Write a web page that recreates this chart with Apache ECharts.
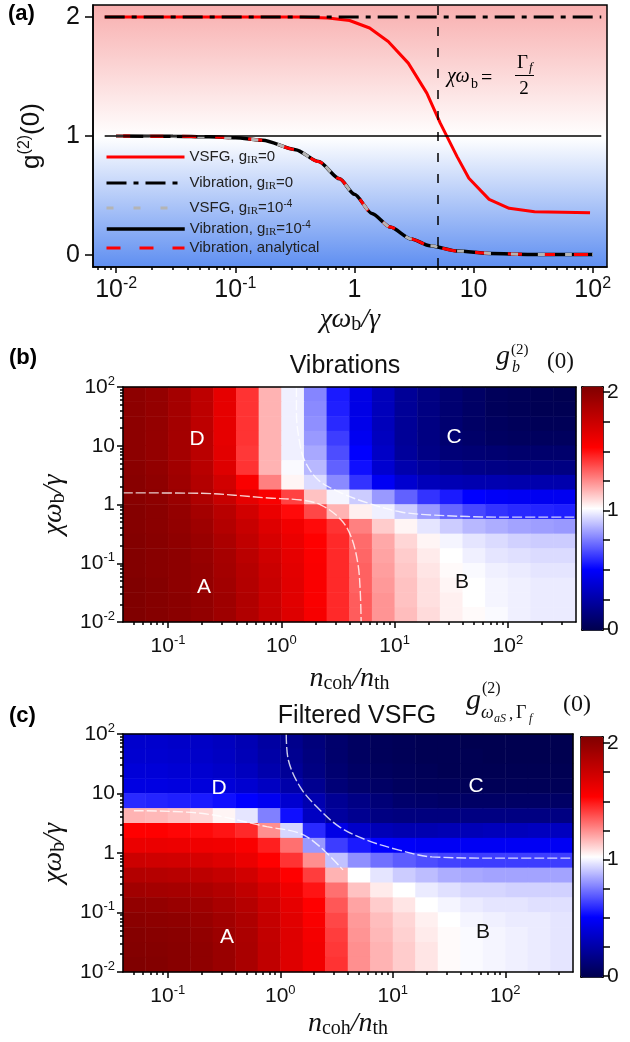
<!DOCTYPE html>
<html>
<head>
<meta charset="utf-8">
<title>g2 maps</title>
<script src="https://cdn.jsdelivr.net/npm/echarts@6.0.0/dist/echarts.min.js"></script>
<style>
  html, body { margin: 0; padding: 0; background: #fff; }
  #chart { width: 630px; height: 1042px; }
</style>
</head>
<body>
<div id="chart"></div>
<script>
// ---- panel (a): g2(0) against chi*omega_b/gamma ----
var vsfgX = [0.008, 0.05, 0.15, 0.34, 0.6, 0.91, 1.34, 1.92, 2.83, 4.05, 5.25, 7.27, 9.13, 13.5, 19.9, 32.5, 95];
var vsfgY = [2.0, 2.0, 2.0, 2.0, 1.99, 1.97, 1.907, 1.794, 1.612, 1.36, 1.108, 0.827, 0.645, 0.468, 0.393, 0.364, 0.356];
var vibFlatX = [0.008, 118];
var vibFlatY = [2, 2];
var vibX = [0.01, 0.03, 0.06, 0.1, 0.17, 0.32, 0.5, 0.75, 1.0, 1.4, 2.0, 3.0, 4.3, 7.3, 14, 30, 60, 100];
var vibY = [1.0, 0.998, 0.993, 0.985, 0.965, 0.885, 0.785, 0.64, 0.51, 0.35, 0.235, 0.135, 0.078, 0.034, 0.014, 0.006, 0.004, 0.004];
var guideX = [0.008, 118];   // g2 = 1 guide
var filterX = 5;             // chi*omega_b = Gamma_f / 2

var legendNames = ['VSFG, gIR=0', 'Vibration, gIR=0', 'VSFG, gIR=1e-4', 'Vibration, gIR=1e-4', 'Vibration, analytical'];
var legendTexts = ['VSFG, g{sub|IR}=0', 'Vibration, g{sub|IR}=0', 'VSFG, g{sub|IR}=10{sup|-4}',
                   'Vibration, g{sub|IR}=10{sup|-4}', 'Vibration, analytical'];

// tick values are log10 exponents
var aXTicks = [-2, -1, 0, 1, 2];
var aXLabels = ['10{sup|-2}', '10{sup|-1}', '1', '10', '10{sup|2}'];
var aYTicks = [0, 1, 2];
var aYLabels = ['0', '1', '2'];
var mapXTicks = [-1, 0, 1, 2];
var mapXLabels = ['10{sup|-1}', '10{sup|0}', '10{sup|1}', '10{sup|2}'];
var mapYTicks = [-2, -1, 0, 1, 2];
var mapYLabels = ['10{sup|-2}', '10{sup|-1}', '1', '10', '10{sup|2}'];

// ---- panels (b), (c): cell centres (n_coh/n_th across, chi*omega_b/gamma up) ----
var colCenters = [0.05, 0.08, 0.126, 0.2, 0.32, 0.5, 0.8, 1.26, 2, 3.2, 5, 8, 12.6, 20, 32, 50, 80, 126, 200, 318];
var rowCenters = [0.013, 0.024, 0.042, 0.075, 0.133, 0.237, 0.42, 0.75, 1.33, 2.37, 4.2, 7.5, 13.3, 23.7, 42, 75];

// g_b^(2)(0), top row first
var vibRows = [
  [1.95,1.92,1.86,1.76,1.60,1.40,1.15,0.97,0.76,0.55,0.43,0.31,0.21,0.15,0.10,0.07,0.04,0.03,0.02,0.01],
  [1.95,1.92,1.86,1.76,1.60,1.40,1.15,0.97,0.77,0.56,0.43,0.31,0.21,0.15,0.10,0.07,0.04,0.03,0.02,0.02],
  [1.95,1.92,1.86,1.76,1.60,1.40,1.15,0.97,0.78,0.58,0.44,0.31,0.21,0.15,0.10,0.07,0.05,0.04,0.03,0.03],
  [1.95,1.92,1.86,1.77,1.60,1.40,1.15,0.97,0.80,0.62,0.46,0.32,0.21,0.15,0.10,0.08,0.06,0.05,0.05,0.05],
  [1.95,1.92,1.86,1.77,1.61,1.39,1.15,0.97,0.83,0.65,0.50,0.34,0.22,0.16,0.12,0.11,0.10,0.09,0.09,0.09],
  [1.96,1.93,1.87,1.78,1.63,1.40,1.15,0.99,0.86,0.69,0.53,0.37,0.27,0.22,0.19,0.17,0.16,0.15,0.15,0.15],
  [1.97,1.94,1.88,1.80,1.68,1.52,1.25,1.02,0.93,0.77,0.60,0.47,0.37,0.31,0.29,0.28,0.28,0.27,0.27,0.27],
  [1.97,1.95,1.90,1.82,1.72,1.60,1.52,1.37,1.12,0.98,0.90,0.80,0.69,0.60,0.55,0.50,0.48,0.47,0.46,0.46],
  [1.98,1.96,1.92,1.86,1.78,1.68,1.58,1.48,1.36,1.15,1.03,0.97,0.90,0.80,0.70,0.64,0.60,0.58,0.57,0.56],
  [1.98,1.96,1.93,1.88,1.80,1.72,1.63,1.55,1.48,1.40,1.25,1.10,1.02,0.95,0.90,0.86,0.84,0.82,0.81,0.80],
  [1.99,1.97,1.94,1.90,1.83,1.75,1.66,1.58,1.50,1.42,1.29,1.17,1.08,1.02,0.98,0.95,0.93,0.91,0.90,0.90],
  [1.99,1.97,1.95,1.91,1.85,1.77,1.69,1.60,1.51,1.42,1.30,1.18,1.10,1.04,1.00,0.97,0.95,0.94,0.93,0.93],
  [1.99,1.97,1.95,1.92,1.86,1.79,1.71,1.61,1.52,1.42,1.31,1.19,1.11,1.05,1.01,0.99,0.97,0.96,0.95,0.95],
  [2.00,1.98,1.95,1.92,1.87,1.80,1.72,1.62,1.52,1.42,1.31,1.20,1.12,1.06,1.02,1.00,0.98,0.97,0.96,0.96],
  [2.00,1.98,1.96,1.93,1.88,1.81,1.72,1.62,1.52,1.42,1.32,1.21,1.12,1.06,1.03,1.00,0.98,0.97,0.96,0.96],
  [2.00,1.98,1.96,1.93,1.88,1.81,1.73,1.63,1.53,1.42,1.32,1.21,1.13,1.07,1.03,1.01,0.99,0.97,0.96,0.96]
];

// filtered VSFG g2(0), top row first
var sfgRows = [
  [0.36,0.36,0.35,0.34,0.32,0.29,0.24,0.18,0.13,0.09,0.06,0.04,0.03,0.02,0.02,0.01,0.01,0.01,0.01,0.01],
  [0.37,0.37,0.36,0.35,0.33,0.30,0.25,0.19,0.14,0.09,0.06,0.04,0.03,0.02,0.02,0.02,0.01,0.01,0.01,0.01],
  [0.39,0.39,0.38,0.37,0.35,0.32,0.27,0.21,0.15,0.10,0.07,0.05,0.04,0.03,0.02,0.02,0.02,0.02,0.02,0.02],
  [0.42,0.42,0.41,0.40,0.39,0.37,0.33,0.26,0.19,0.12,0.09,0.07,0.05,0.04,0.04,0.03,0.03,0.03,0.03,0.03],
  [0.58,0.57,0.56,0.55,0.53,0.50,0.46,0.37,0.28,0.20,0.16,0.12,0.09,0.08,0.07,0.07,0.07,0.07,0.07,0.07],
  [1.15,1.14,1.12,1.08,1.02,0.95,0.75,0.53,0.33,0.23,0.19,0.15,0.14,0.14,0.14,0.15,0.15,0.15,0.15,0.15],
  [1.50,1.50,1.49,1.48,1.46,1.42,1.22,0.92,0.58,0.43,0.35,0.30,0.28,0.28,0.29,0.30,0.31,0.31,0.32,0.32],
  [1.58,1.58,1.57,1.56,1.55,1.52,1.44,1.28,0.80,0.62,0.55,0.50,0.48,0.47,0.47,0.47,0.47,0.47,0.47,0.47],
  [1.70,1.69,1.68,1.66,1.63,1.58,1.50,1.40,1.22,0.88,0.78,0.72,0.68,0.65,0.63,0.62,0.62,0.62,0.62,0.62],
  [1.80,1.79,1.78,1.76,1.73,1.68,1.60,1.50,1.38,1.15,1.00,0.95,0.90,0.87,0.84,0.83,0.82,0.82,0.82,0.82],
  [1.87,1.86,1.85,1.83,1.80,1.75,1.67,1.56,1.46,1.28,1.12,1.04,1.00,0.96,0.94,0.92,0.92,0.91,0.91,0.91],
  [1.93,1.92,1.90,1.88,1.84,1.79,1.71,1.60,1.50,1.33,1.18,1.10,1.05,1.00,0.98,0.96,0.95,0.95,0.94,0.94],
  [1.96,1.95,1.94,1.91,1.87,1.82,1.73,1.62,1.52,1.36,1.20,1.13,1.08,1.03,1.00,0.98,0.97,0.96,0.96,0.95],
  [1.98,1.97,1.96,1.93,1.89,1.83,1.74,1.63,1.54,1.38,1.21,1.14,1.09,1.04,1.01,0.99,0.98,0.97,0.96,0.95],
  [1.99,1.98,1.97,1.94,1.90,1.84,1.75,1.63,1.55,1.39,1.22,1.15,1.10,1.05,1.01,0.99,0.98,0.97,0.96,0.95],
  [2.00,1.99,1.97,1.94,1.90,1.84,1.75,1.63,1.55,1.40,1.22,1.15,1.10,1.05,1.01,0.99,0.98,0.97,0.96,0.95]
];

// region boundaries (white dashed)
var vibEdgeAX = [0.04, 0.197, 0.77, 1.5, 2.25, 3.38, 4.14, 4.74, 4.97, 5.07];
var vibEdgeAY = [1.58, 1.55, 1.29, 1.19, 0.98, 0.545, 0.28, 0.1, 0.035, 0.01];
var vibEdgeCX = [1.36, 1.36, 1.44, 1.6, 2.12, 3.38, 5.8, 11.4, 22.3, 87, 400];
var vibEdgeCY = [100, 36, 12.5, 5.7, 2.61, 1.57, 1.06, 0.745, 0.66, 0.61, 0.61];
var sfgEdgeAX = [0.05, 0.197, 0.76, 1.5, 2.25, 3.61];
var sfgEdgeAY = [5.14, 4.65, 2.77, 2.14, 1.28, 0.52];
var sfgEdgeCX = [1.13, 1.18, 1.5, 2.12, 3.38, 5.85, 11.4, 22.3, 87, 400];
var sfgEdgeCY = [100, 36.6, 12.9, 5.93, 2.73, 1.65, 1.12, 0.86, 0.82, 0.82];

var SANS = '"Liberation Sans", Arial, sans-serif';
var SERIF = '"Liberation Serif", "Times New Roman", serif';
var SEISMIC = ['#00004c', '#0000ff', '#ffffff', '#ff0000', '#800000'];

function lg(v) { return Math.log10(v); }
function pairs(xs, ys) { return xs.map(function (x, i) { return [lg(x), ys[i]]; }); }
function pairsLL(xs, ys) { return xs.map(function (x, i) { return [lg(x), lg(ys[i])]; }); }
function cells(rows) {
  var out = [], n = rows.length;
  rows.forEach(function (r, k) { r.forEach(function (v, i) { out.push([i, n - 1 - k, v]); }); });
  return out;
}
function minorTicks(lo, hi) {
  var out = [];
  for (var e = -4; e <= 3; e++) for (var k = 2; k <= 9; k++) {
    var v = e + Math.log10(k);
    if (v > lo && v < hi) out.push(v);
  }
  return out;
}
function lab(ticks, texts) {
  return function (v) {
    for (var i = 0; i < ticks.length; i++) if (Math.abs(ticks[i] - v) < 1e-6) return texts[i];
    return '';
  };
}

var tickLine = { color: '#000', width: 1.5 };

function mainAxis(grid, pos, min, max, ticks, texts, fs, margin, len) {
  var sup = Math.round(fs * 0.64);
  return {
    gridIndex: grid, type: 'value', position: pos, min: min, max: max, z: 5,
    axisLine: { show: true, onZero: false, lineStyle: tickLine },
    axisTick: { show: true, length: len, customValues: ticks, lineStyle: tickLine },
    axisLabel: {
      customValues: ticks, formatter: lab(ticks, texts), margin: margin,
      fontSize: fs, lineHeight: fs + 4, color: '#111', fontFamily: SANS,
      rich: { sup: { fontSize: sup, lineHeight: sup + 1, verticalAlign: 'top', fontFamily: SANS, color: '#111' } }
    },
    splitLine: { show: false }
  };
}
function minorAxis(grid, pos, min, max, len) {
  return {
    gridIndex: grid, type: 'value', position: pos, min: min, max: max, z: 5,
    axisLine: { show: false, onZero: false },
    axisLabel: { show: false },
    axisTick: { show: true, length: len, customValues: minorTicks(min, max), lineStyle: tickLine },
    splitLine: { show: false }
  };
}
function frameAxis(grid, pos, data) {
  return {
    gridIndex: grid, type: 'category', position: pos, data: data, z: 5,
    axisLine: { show: true, onZero: false, lineStyle: tickLine },
    axisTick: { show: false }, axisLabel: { show: false }, splitLine: { show: false }
  };
}
function barAxis(grid) {
  return {
    gridIndex: grid, type: 'value', position: 'right', min: 0, max: 2, interval: 0.25, z: 5,
    axisLine: { show: false, onZero: false },
    axisTick: { show: true, length: 7, lineStyle: tickLine },
    axisLabel: {
      margin: 4, fontSize: 21, color: '#111', fontFamily: SANS,
      formatter: function (v) { return Math.abs(v - Math.round(v)) < 1e-6 ? String(Math.round(v)) : ''; }
    },
    splitLine: { show: false }
  };
}

var mathName = {
  fontFamily: SERIF, fontSize: 28, fontStyle: 'italic', color: '#111',
  rich: {
    i: { fontFamily: SERIF, fontStyle: 'italic', fontSize: 28, lineHeight: 30, color: '#111' },
    s: { fontFamily: SERIF, fontStyle: 'normal', fontSize: 20, lineHeight: 20, verticalAlign: 'bottom', color: '#111' }
  }
};
var chiName = '{i|χω}{s|b}{i|/γ}';
var nName = '{i|n}{s|coh}{i|/n}{s|th}';

var aXMin = -2.195, aXMax = 2.12;
var mXMin = lg(0.04), mXMax = lg(400);

var xAxes = [
  Object.assign(mainAxis(0, 'bottom', aXMin, aXMax, aXTicks, aXLabels, 25, 9, 6),
    { name: chiName, nameLocation: 'middle', nameGap: 33, nameTextStyle: mathName }),
  minorAxis(0, 'bottom', aXMin, aXMax, 3),
  Object.assign(mainAxis(1, 'bottom', mXMin, mXMax, mapXTicks, mapXLabels, 21, 12, 6),
    { name: nName, nameLocation: 'middle', nameGap: 42, nameTextStyle: mathName }),
  minorAxis(1, 'bottom', mXMin, mXMax, 3),
  frameAxis(1, 'top', colCenters.map(String)),
  Object.assign(mainAxis(2, 'bottom', mXMin, mXMax, mapXTicks, mapXLabels, 21, 12, 6),
    { name: nName, nameLocation: 'middle', nameGap: 31, nameTextStyle: mathName }),
  minorAxis(2, 'bottom', mXMin, mXMax, 3),
  frameAxis(2, 'top', colCenters.map(String)),
  { gridIndex: 3, type: 'value', show: false },
  { gridIndex: 4, type: 'value', show: false }
];

var yAxes = [
  Object.assign(mainAxis(0, 'left', -0.1, 2.1, aYTicks, aYLabels, 25, 13, 8),
    { name: 'g{sup|(2)}(0)', nameLocation: 'middle', nameGap: 46, nameRotate: 90,
      nameTextStyle: { fontFamily: SANS, fontSize: 26, color: '#111', lineHeight: 30,
        rich: { sup: { fontFamily: SANS, fontSize: 16, lineHeight: 16, verticalAlign: 'top', color: '#111' } } } }),
  Object.assign(mainAxis(1, 'left', -2, 2, mapYTicks, mapYLabels, 21, 8, 6),
    { name: chiName, nameLocation: 'middle', nameGap: 54, nameRotate: 90, nameTextStyle: mathName }),
  minorAxis(1, 'left', -2, 2, 3),
  frameAxis(1, 'right', rowCenters.map(String)),
  Object.assign(mainAxis(2, 'left', -2, 2, mapYTicks, mapYLabels, 21, 8, 6),
    { name: chiName, nameLocation: 'middle', nameGap: 54, nameRotate: 90, nameTextStyle: mathName }),
  minorAxis(2, 'left', -2, 2, 3),
  frameAxis(2, 'right', rowCenters.map(String)),
  barAxis(3),
  barAxis(4)
];

var legendTops = [148, 174, 199, 220, 239];
var legendWidths = [3, 3, 3, 3.5, 3];
var legends = legendNames.map(function (n, k) {
  return {
    data: [n], left: 105, top: legendTops[k], padding: 0, itemGap: 0,
    itemWidth: 78, itemHeight: 14, selectedMode: false,
    itemStyle: { opacity: 0 },
    lineStyle: { width: legendWidths[k] },
    formatter: function (name) { return legendTexts[legendNames.indexOf(name)]; },
    textStyle: {
      fontSize: 15, fontFamily: SANS, color: '#222', lineHeight: 18,
      rich: {
        sub: { fontSize: 11, lineHeight: 11, verticalAlign: 'bottom', fontFamily: SERIF, color: '#222' },
        sup: { fontSize: 10, lineHeight: 10, verticalAlign: 'top', fontFamily: SANS, color: '#222' }
      }
    }
  };
});

function lineSeries(name, xs, ys, color, width, type, extra) {
  return Object.assign({
    name: name, type: 'line', xAxisIndex: 0, yAxisIndex: 0,
    data: pairs(xs, ys), symbol: 'none', showSymbol: false,
    smooth: 0.25, smoothMonotone: 'x', silent: true,
    lineStyle: { color: color, width: width, type: type, cap: 'butt' },
    itemStyle: { color: color }, emphasis: { disabled: true }
  }, extra || {});
}
function edgeSeries(xi, yi, xs, ys) {
  return {
    type: 'line', xAxisIndex: xi, yAxisIndex: yi, data: pairsLL(xs, ys),
    symbol: 'none', showSymbol: false, smooth: 0.35, silent: true, z: 4,
    lineStyle: { color: 'rgba(255,255,255,0.8)', width: 1.4, type: [10, 3] },
    emphasis: { disabled: true }
  };
}

var series = [
  lineSeries(legendNames[3], vibX, vibY, '#000', 3.5, 'solid', {
    markLine: {
      silent: true, symbol: ['none', 'none'], label: { show: false }, emphasis: { disabled: true },
      lineStyle: { color: '#000', width: 1.5, type: 'solid' },
      data: [
        [{ coord: [lg(guideX[0]), 1] }, { coord: [lg(guideX[1]), 1] }],
        { xAxis: lg(filterX), lineStyle: { color: '#000', width: 1.5, type: [9, 12] } }
      ]
    }
  }),
  lineSeries(legendNames[4], vibX, vibY, '#ff0000', 3, [14, 19]),
  lineSeries(legendNames[2], vibX, vibY, '#b4b4b4', 3, [7, 20]),
  lineSeries(legendNames[0], vsfgX, vsfgY, '#ff0000', 3, 'solid', { smooth: false }),
  lineSeries(legendNames[1], vibFlatX, vibFlatY, '#000', 3, [20, 7, 5, 7], { smooth: false }),
  { type: 'heatmap', xAxisIndex: 4, yAxisIndex: 3, data: cells(vibRows), silent: true,
    itemStyle: { borderWidth: 0 }, emphasis: { disabled: true }, z: 2 },
  edgeSeries(2, 1, vibEdgeAX, vibEdgeAY),
  edgeSeries(2, 1, vibEdgeCX, vibEdgeCY),
  { type: 'heatmap', xAxisIndex: 7, yAxisIndex: 6, data: cells(sfgRows), silent: true,
    itemStyle: { borderWidth: 0 }, emphasis: { disabled: true }, z: 2 },
  edgeSeries(5, 4, sfgEdgeAX, sfgEdgeAY),
  edgeSeries(5, 4, sfgEdgeCX, sfgEdgeCY)
];

function T(x, y, text, font, fill, align) {
  return { type: 'text', x: x, y: y, z: 100, silent: true,
    style: { text: text, font: font, fill: fill || '#111', align: align || 'left', verticalAlign: 'middle' } };
}
var it = function (px) { return 'italic ' + px + 'px ' + SERIF; };
var up = function (px) { return px + 'px ' + SERIF; };
var sn = function (px) { return px + 'px ' + SANS; };

var graphics = [
  T(8, 14, '(a)', 'bold 22px ' + SANS, '#000'),
  T(9, 358, '(b)', 'bold 22px ' + SANS, '#000'),
  T(9, 716, '(c)', 'bold 22px ' + SANS, '#000'),
  T(345, 366, 'Vibrations', sn(25), '#111', 'center'),
  T(357, 716, 'Filtered VSFG', sn(25), '#111', 'center'),
  // annotation in (a)
  T(447, 77, 'χω', it(20), '#000'),
  T(471, 84, 'b', up(14), '#000'),
  T(481, 79, '=', up(20), '#000'),
  T(517, 63, 'Γ', up(19), '#000'),
  T(529, 68, 'f', it(13), '#000'),
  T(524, 89, '2', up(19), '#000', 'center'),
  { type: 'line', z: 100, silent: true, shape: { x1: 515, y1: 75.5, x2: 534, y2: 75.5 },
    style: { stroke: '#000', lineWidth: 1 } },
  // region letters
  T(197, 439, 'D', sn(21), '#fff', 'center'),
  T(454, 437, 'C', sn(21), '#fff', 'center'),
  T(204, 587, 'A', sn(21), '#fff', 'center'),
  T(462, 582, 'B', sn(21), '#111', 'center'),
  T(219, 788, 'D', sn(21), '#fff', 'center'),
  T(476, 786, 'C', sn(21), '#fff', 'center'),
  T(227, 937, 'A', sn(21), '#fff', 'center'),
  T(483, 932, 'B', sn(21), '#111', 'center'),
  // colour bar titles
  T(496, 357, 'g', it(28)),
  T(511, 350, '(2)', up(15)),
  T(512, 368, 'b', it(16)),
  T(547, 362, '(0)', up(23)),
  T(466, 701, 'g', it(30)),
  T(482, 689, '(2)', up(16)),
  T(481, 713, 'ω', it(18)),
  T(494, 719, 'aS', it(12)),
  T(509, 715, ',', up(17)),
  T(516, 713, 'Γ', up(18)),
  T(529, 719, 'f', it(12)),
  T(563, 705, '(0)', up(24))
];

var bg = new echarts.graphic.LinearGradient(0, 0, 0, 1, [
  { offset: 0, color: '#f8aeae' },
  { offset: 0.504, color: '#ffffff' },
  { offset: 1, color: '#5e8ef1' }
]);

var option = {
  animation: false,
  backgroundColor: '#fff',
  textStyle: { fontFamily: SANS },
  grid: [
    { left: 93, top: 5, width: 514, height: 262, show: true, backgroundColor: bg, borderColor: '#000', borderWidth: 1.5 },
    { left: 123, top: 387, width: 453, height: 235 },
    { left: 123, top: 734, width: 450, height: 238 },
    { left: 581, top: 392, width: 22, height: 237 },
    { left: 580, top: 743, width: 23, height: 233 }
  ],
  xAxis: xAxes,
  yAxis: yAxes,
  visualMap: [
    { type: 'continuous', seriesIndex: 5, min: 0, max: 2, calculable: false, hoverLink: false,
      left: 581, top: 386, itemWidth: 22, itemHeight: 244, padding: 0,
      borderColor: '#000', borderWidth: 1, inRange: { color: SEISMIC } },
    { type: 'continuous', seriesIndex: 8, min: 0, max: 2, calculable: false, hoverLink: false,
      left: 580, top: 736, itemWidth: 23, itemHeight: 241, padding: 0,
      borderColor: '#000', borderWidth: 1, inRange: { color: SEISMIC } }
  ],
  legend: legends,
  series: series,
  graphic: graphics
};

var chart = echarts.init(document.getElementById('chart'), null, { renderer: 'canvas' });
chart.setOption(option);
</script>
</body>
</html>
